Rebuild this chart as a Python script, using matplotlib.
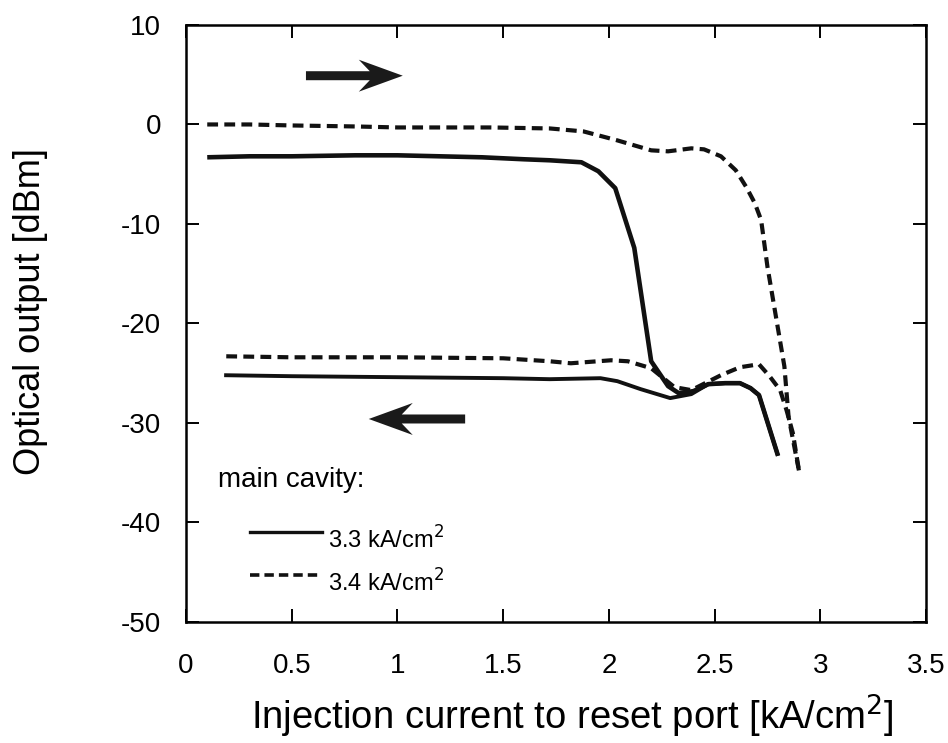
import numpy as np
import matplotlib
matplotlib.use('Agg')
import matplotlib.pyplot as plt
from matplotlib.patches import Polygon
from matplotlib.transforms import ScaledTranslation

# --- data: optical output vs. reset-port injection current ---
# main cavity 3.3 kA/cm^2, sweep up (upper branch) and sweep down (lower branch)
x_33_up = [0.10, 0.30, 0.50, 0.80, 1.00, 1.20, 1.40, 1.60, 1.72, 1.87, 1.95, 2.03,
           2.12, 2.20, 2.28, 2.33, 2.40, 2.47, 2.55, 2.62, 2.67, 2.71, 2.80]
y_33_up = [-3.3, -3.2, -3.2, -3.1, -3.1, -3.2, -3.3, -3.5, -3.6, -3.8, -4.7, -6.4,
           -12.4, -23.8, -26.3, -27.0, -26.8, -26.1, -26.0, -26.0, -26.5, -27.2, -33.3]
x_33_down = [0.18, 0.50, 1.00, 1.50, 1.72, 1.96, 2.04, 2.15, 2.29, 2.39, 2.47, 2.55,
             2.62, 2.67, 2.71, 2.80]
y_33_down = [-25.2, -25.3, -25.4, -25.5, -25.6, -25.5, -25.8, -26.6, -27.5, -27.1, -26.1,
             -26.0, -26.0, -26.5, -27.2, -33.3]

# main cavity 3.4 kA/cm^2
x_34_up = [0.10, 0.30, 0.50, 0.80, 1.00, 1.20, 1.44, 1.72, 1.88, 2.04, 2.20, 2.28,
           2.39, 2.45, 2.53, 2.60, 2.65, 2.69, 2.72, 2.75, 2.79, 2.83, 2.85, 2.90]
y_34_up = [0.0, 0.0, -0.1, -0.2, -0.3, -0.3, -0.3, -0.4, -0.7, -1.6, -2.6, -2.7,
           -2.4, -2.5, -3.2, -4.6, -6.3, -7.9, -9.6, -14.3, -19.3, -24.3, -29.4, -34.9]
x_34_down = [0.19, 0.50, 1.00, 1.50, 1.72, 1.82, 2.01, 2.09, 2.20, 2.31, 2.39, 2.53,
             2.62, 2.71, 2.76, 2.81, 2.84, 2.87, 2.90]
y_34_down = [-23.3, -23.4, -23.4, -23.5, -23.8, -24.0, -23.7, -23.8, -24.5, -26.4, -26.7,
             -25.2, -24.4, -24.1, -25.3, -26.7, -28.7, -31.0, -34.9]

xticks = [0, 0.5, 1, 1.5, 2, 2.5, 3, 3.5]
xtick_labels = ['0', '0.5', '1', '1.5', '2', '2.5', '3', '3.5']
yticks = [-50, -40, -30, -20, -10, 0, 10]

# sweep direction arrows: (tail x, tip x, y)
arrow_up = (0.567, 1.025, 4.9)
arrow_down = (1.32, 0.864, -29.6)

plt.rcParams['font.family'] = ['Liberation Sans', 'DejaVu Sans']
plt.rcParams['axes.unicode_minus'] = False

fig = plt.figure(figsize=(9.48, 7.43), dpi=100)
ax = fig.add_axes([0.1963, 0.1629, 0.7805, 0.8035])

dash = (0, (2.6, 1.5))
ax.plot(x_33_up, y_33_up, color='#111111', lw=3.3, solid_capstyle='butt')
ax.plot(x_33_down, y_33_down, color='#111111', lw=2.8, solid_capstyle='butt')
ax.plot(x_34_up, y_34_up, color='#111111', lw=3.0, linestyle=dash)
ax.plot(x_34_down, y_34_down, color='#111111', lw=3.0, linestyle=dash)

ax.set_xlim(0, 3.5)
ax.set_ylim(-50, 10)
ax.set_xticks(xticks)
ax.set_xticklabels(xtick_labels)
ax.set_yticks(yticks)
ax.tick_params(direction='in', length=9.5, width=1.4, top=True, right=True,
               labelsize=20)
ax.tick_params(axis='x', pad=22)
ax.tick_params(axis='y', pad=18)
for s in ax.spines.values():
    s.set_linewidth(1.8)

ax.set_xlabel('Injection current to reset port [kA/cm$^2$]', fontsize=27.5)
ax.xaxis.set_label_coords(0.522, -0.118)
ax.xaxis.label.set_va('top')
ax.set_ylabel('Optical output [dBm]', fontsize=26)
ax.yaxis.set_label_coords(-0.186, 0.52)


def draw_arrow(tail, tip, y):
    # arrow shape in pixels, tip at origin pointing along +x
    sign = 1 if tip > tail else -1
    L = abs(tip - tail) * ax.bbox.width / 3.5
    shape = np.array([[0, 0], [-44, 16], [-33, 4.5], [-L, 4.5], [-L, -4.5],
                      [-33, -4.5], [-44, -16]], dtype=float)
    shape[:, 0] *= sign
    shape /= fig.dpi
    tr = fig.dpi_scale_trans + ScaledTranslation(tip, y, ax.transData)
    ax.add_patch(Polygon(shape, closed=True, transform=tr, facecolor='#1a1a1a',
                         edgecolor='none', zorder=5))


draw_arrow(*arrow_up)
draw_arrow(*arrow_down)

# legend block
ax.text(0.043, 0.238, 'main cavity:', transform=ax.transAxes, fontsize=20,
        ha='left', va='center')
ax.plot([0.086, 0.184], [0.151, 0.151], transform=ax.transAxes, color='#111111', lw=2.4)
ax.plot([0.086, 0.184], [0.079, 0.079], transform=ax.transAxes, color='#111111', lw=2.6,
        linestyle=(0, (2.6, 1.4)))
ax.text(0.192, 0.137, '3.3 kA/cm$^2$', transform=ax.transAxes, fontsize=17,
        ha='left', va='center')
ax.text(0.192, 0.066, '3.4 kA/cm$^2$', transform=ax.transAxes, fontsize=17,
        ha='left', va='center')

plt.savefig('out.png', dpi=100)
